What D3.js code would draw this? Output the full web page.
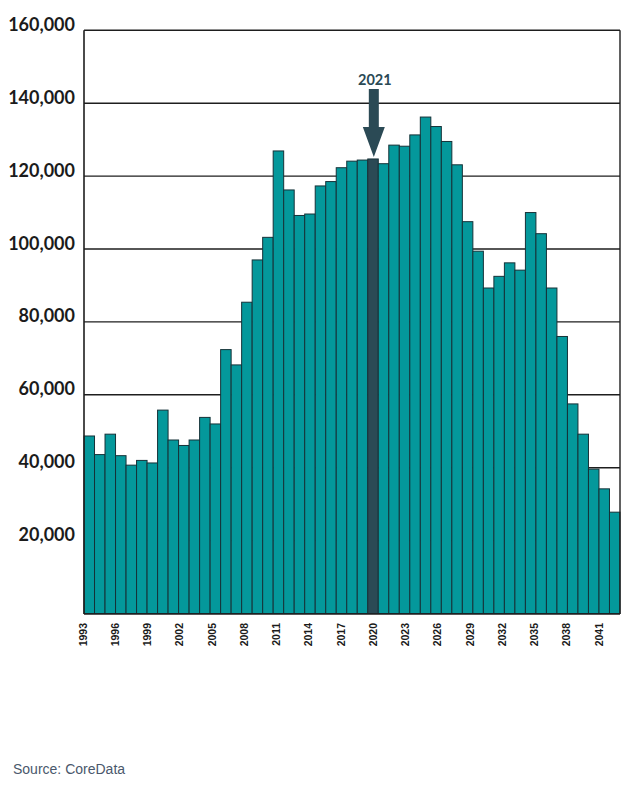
<!DOCTYPE html>
<html>
<head>
<meta charset="utf-8">
<script src="https://cdn.jsdelivr.net/npm/d3@7"></script>
<style>
  html, body { margin: 0; padding: 0; background: #ffffff; }
  svg { display: block; }
</style>
</head>
<body>
<svg id="chart" width="640" height="787"></svg>
<script>
// ---- data ----
const years = [1993,1994,1995,1996,1997,1998,1999,2000,2001,2002,2003,2004,2005,2006,2007,2008,2009,2010,
  2011,2012,2013,2014,2015,2016,2017,2018,2019,2020,2021,2022,2023,2024,2025,2026,2027,2028,2029,2030,
  2031,2032,2033,2034,2035,2036,2037,2038,2039,2040,2041,2042,2043];
const values = [48700,43600,49200,43300,40700,42000,41300,55800,47600,46100,47600,53800,52000,72400,68200,
  85400,97000,103200,126900,116200,109200,109600,117300,118500,122300,124100,124400,124700,123400,128500,
  128200,131300,136200,133600,129500,123100,107500,99400,89300,92500,96200,94200,110000,104200,89300,
  76000,57500,49200,39600,34200,27800];
const highlightYear = 2020;
const arrowLabel = "2021";
const yTicks = [20000,40000,60000,80000,100000,120000,140000,160000];
const xTickYears = [1993,1996,1999,2002,2005,2008,2011,2014,2017,2020,2023,2026,2029,2032,2035,2038,2041];
const sourceText = "Source: CoreData";

// ---- layout ----
const plotL = 84, plotR = 620, plotT = 30.3, plotB = 613.5;
const svg = d3.select("#chart");

const x = d3.scaleBand().domain(years).range([plotL, plotR]).padding(0);
const y = d3.scaleLinear().domain([0, 160000]).range([plotB, plotT]);
const xLabel = d3.scaleLinear().domain([xTickYears[0], xTickYears[xTickYears.length - 1]]).range([83, 599]);

const data = years.map((yr, i) => ({ year: yr, value: values[i] }));

// gridlines (behind bars)
svg.append("g").selectAll("line").data(yTicks).join("line")
  .attr("x1", plotL).attr("x2", plotR)
  .attr("y1", d => y(d)).attr("y2", d => y(d))
  .attr("stroke", "#1e1e1e").attr("stroke-width", 1.4);

// bars
svg.append("g").selectAll("rect").data(data).join("rect")
  .attr("x", d => x(d.year))
  .attr("y", d => y(d.value))
  .attr("width", x.bandwidth())
  .attr("height", d => plotB - y(d.value))
  .attr("fill", d => d.year === highlightYear ? "#2b4a55" : "#04989b")
  .attr("stroke", "#163238")
  .attr("stroke-width", 1);

// frame: left axis, right border, baseline
svg.append("line").attr("x1", plotL).attr("x2", plotL).attr("y1", plotT).attr("y2", plotB + 0.5)
  .attr("stroke", "#1e1e1e").attr("stroke-width", 1.6);
svg.append("line").attr("x1", plotR).attr("x2", plotR).attr("y1", plotT).attr("y2", plotB + 0.5)
  .attr("stroke", "#1e1e1e").attr("stroke-width", 1.4);
svg.append("line").attr("x1", plotL).attr("x2", plotR).attr("y1", plotB + 0.5).attr("y2", plotB + 0.5)
  .attr("stroke", "#1e1e1e").attr("stroke-width", 1.4);

// y labels
svg.append("g").selectAll("text").data(yTicks).join("text")
  .attr("x", 75)
  .attr("y", d => y(d) + 0.5)
  .attr("text-anchor", "end")
  .attr("font-family", "Lato, 'DejaVu Sans', sans-serif")
  .attr("font-weight", 700)
  .attr("font-size", 18)
  .attr("fill", "#1b1b1b")
  .text(d => d3.format(",")(d));

// x labels (rotated)
svg.append("g").selectAll("text").data(xTickYears).join("text")
  .attr("transform", d => `translate(${xLabel(d)},623) rotate(-90)`)
  .attr("text-anchor", "end")
  .attr("dy", "0.35em")
  .attr("font-family", "'Liberation Sans', Arial, sans-serif")
  .attr("font-weight", 700)
  .attr("font-size", 10.5)
  .attr("fill", "#1b1b1b")
  .text(d => d);

// arrow to highlighted bar
const hx = x(highlightYear) + x.bandwidth() / 2 + 0.8;
const tipY = y(values[years.indexOf(highlightYear)]) - 2;
const shaftTop = 89, headTop = 127, sw = 5, hw = 11;
svg.append("path")
  .attr("d", `M${hx - sw},${shaftTop} L${hx + sw},${shaftTop} L${hx + sw},${headTop} L${hx + hw},${headTop}
    L${hx},${tipY} L${hx - hw},${headTop} L${hx - sw},${headTop} Z`)
  .attr("fill", "#2b4a55");
svg.append("text")
  .attr("x", hx + 1).attr("y", 84.5)
  .attr("text-anchor", "middle")
  .attr("font-family", "Lato, 'DejaVu Sans', sans-serif")
  .attr("font-weight", 700)
  .attr("font-size", 14.5)
  .attr("fill", "#2b4a55")
  .text(arrowLabel);

// source
svg.append("text")
  .attr("x", 13).attr("y", 774)
  .attr("font-family", "'Liberation Sans', Arial, sans-serif")
  .attr("font-size", 14)
  .attr("fill", "#4a586c")
  .text(sourceText);
</script>
</body>
</html>
